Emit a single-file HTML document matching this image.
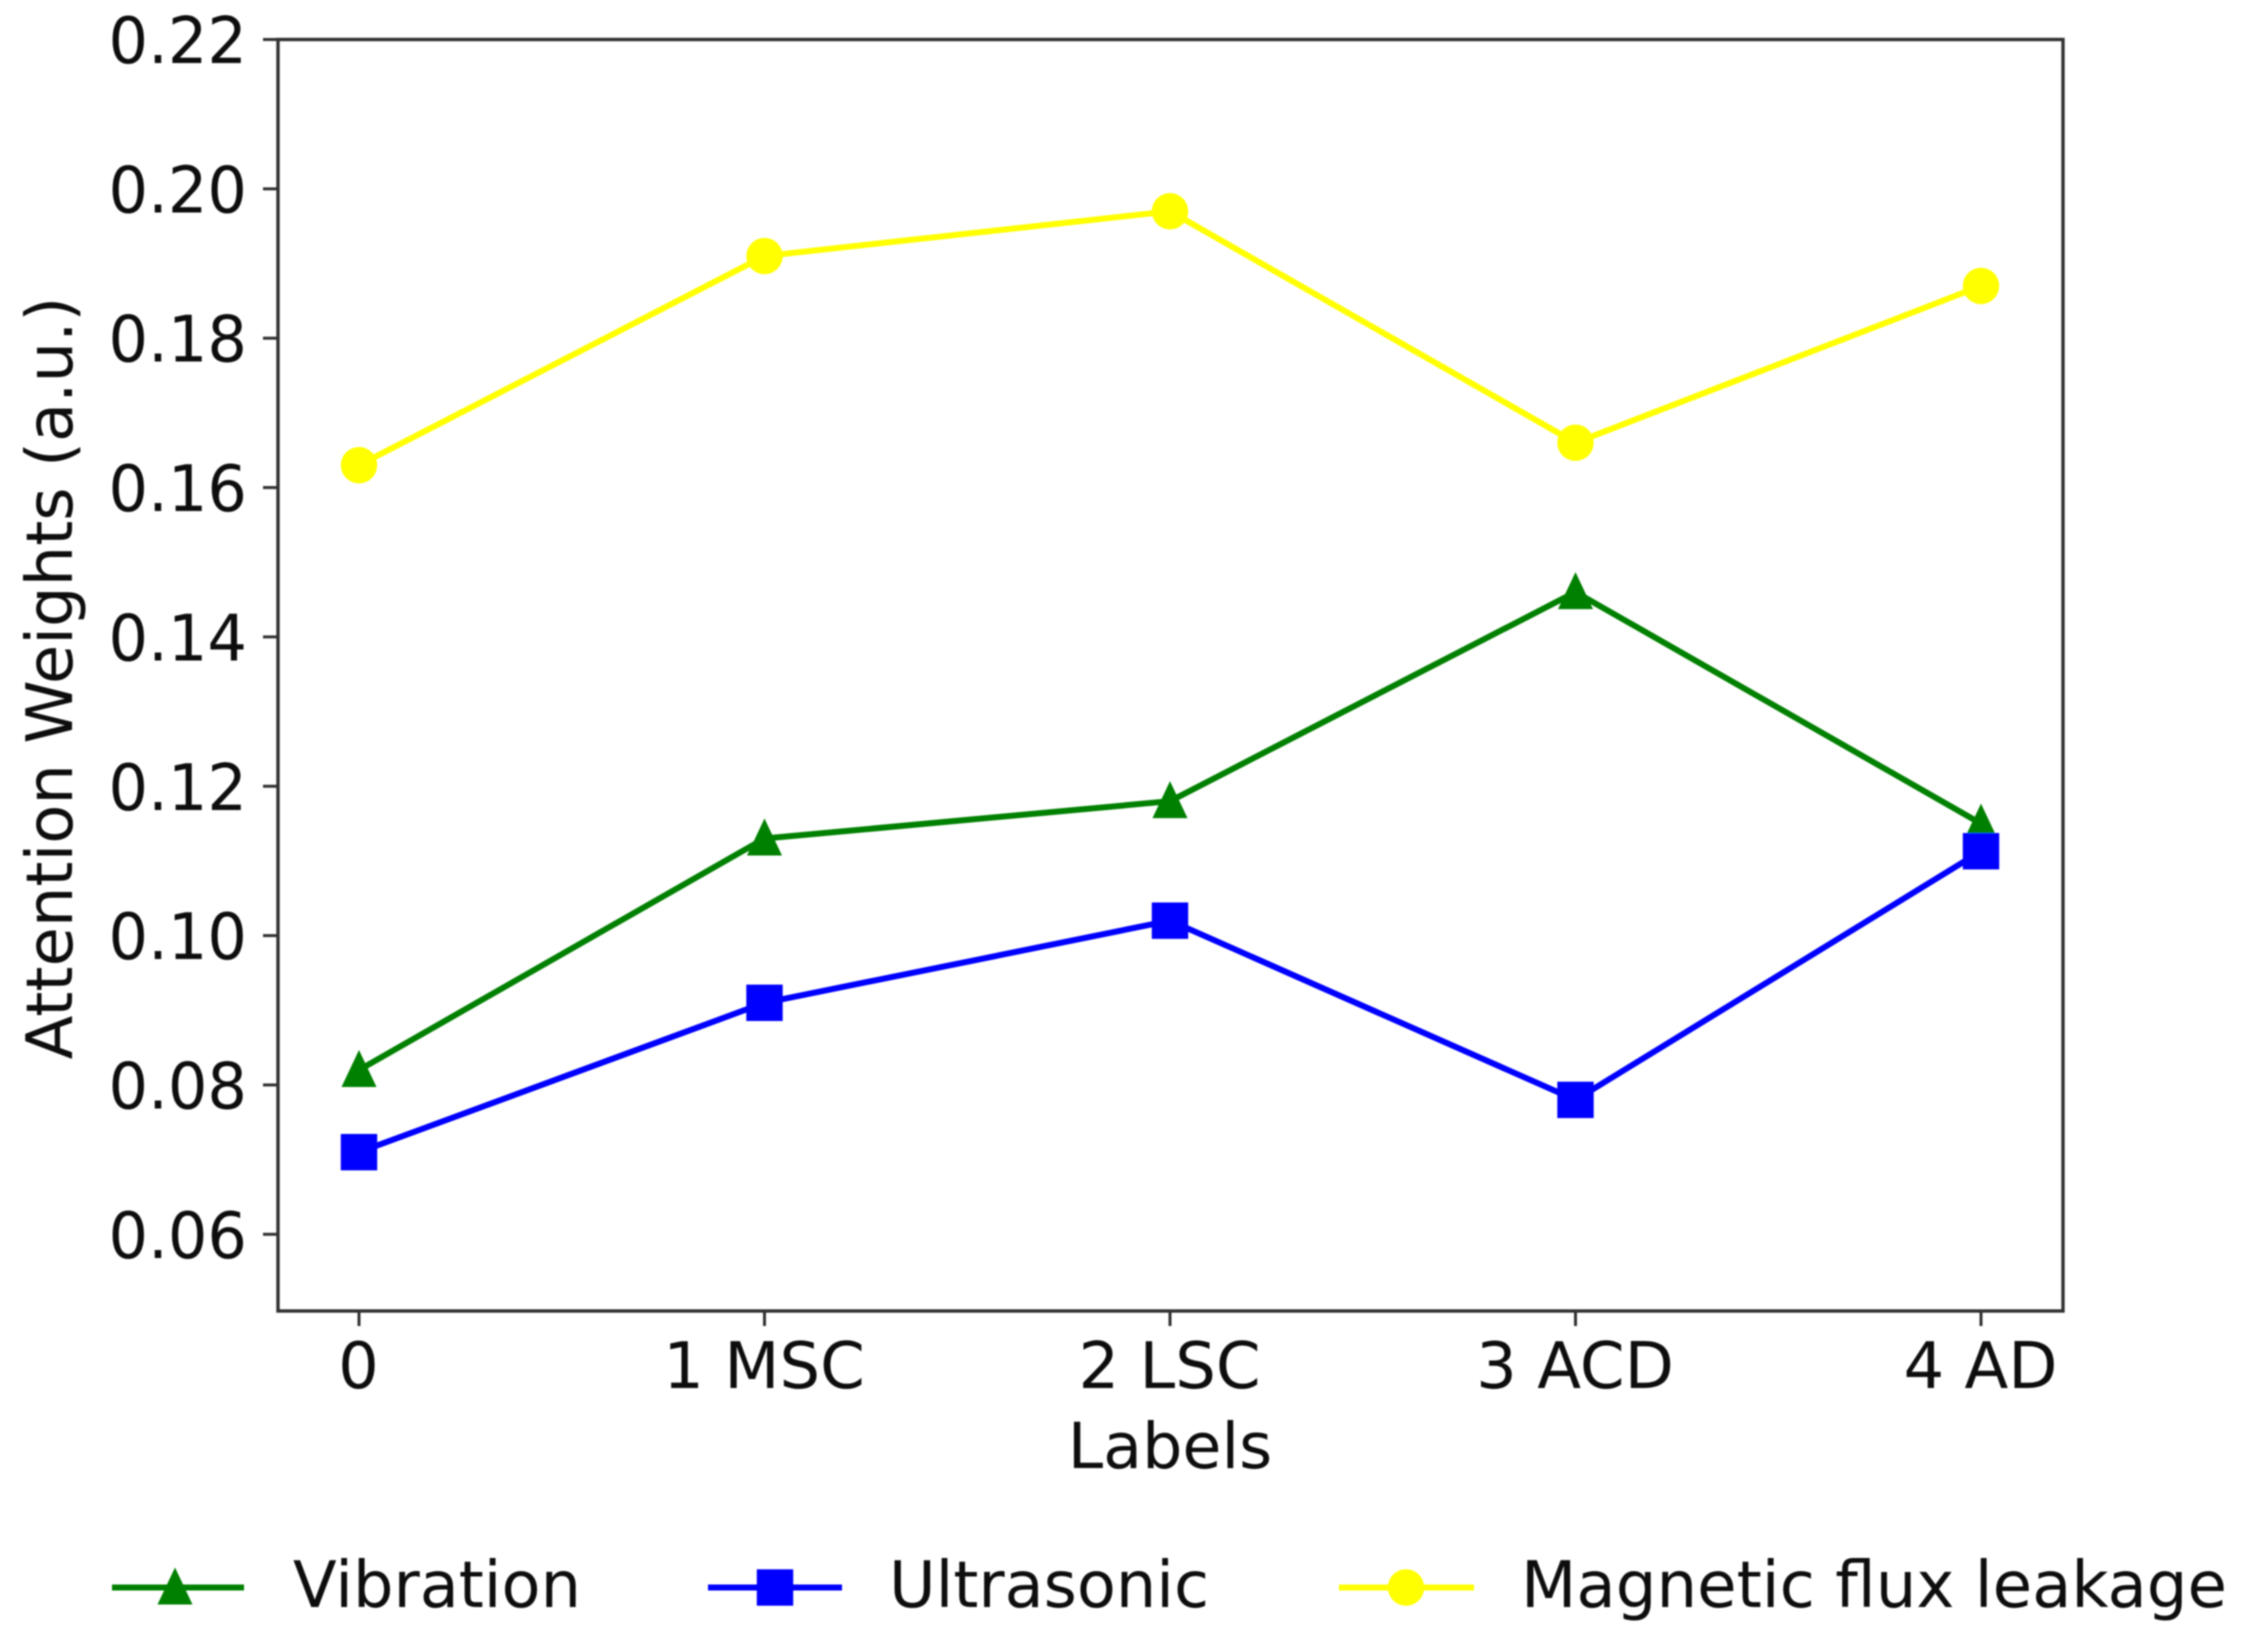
<!DOCTYPE html>
<html lang="en">
<head>
<meta charset="utf-8">
<title>Attention Weights Chart</title>
<style>
html,body{margin:0;padding:0;background:#fff;}
svg{display:block;}
text{font-family:"DejaVu Sans","Liberation Sans",sans-serif;fill:#0a0a0a;}
</style>
</head>
<body>
<svg id="chart" width="2244" height="1641" viewBox="0 0 2244 1641" xmlns="http://www.w3.org/2000/svg">
  <defs>
    <filter id="soft" x="-2%" y="-2%" width="104%" height="104%"><feGaussianBlur stdDeviation="0.8"/></filter>
  </defs>
  <g id="root" filter="url(#soft)"></g>
</svg>
<script>
const categories = ["0", "1 MSC", "2 LSC", "3 ACD", "4 AD"];
const yTickValues = [0.06, 0.08, 0.10, 0.12, 0.14, 0.16, 0.18, 0.20, 0.22];
const vibration = [0.082, 0.113, 0.118, 0.146, 0.115];
const ultrasonic = [0.071, 0.091, 0.102, 0.078, 0.1113];
const magneticFluxLeakage = [0.163, 0.191, 0.197, 0.166, 0.187];

const NS = "http://www.w3.org/2000/svg";
const root = document.getElementById("root");
const plot = {left: 278, right: 2063, top: 39.5, bottom: 1311};
const FONT = 64;

function xScale(i) { return 359 + i * 405.5; }
function yScale(v) { return 39.5 + (0.22 - v) * (1194.8 / 0.16); }

function make(tag, attrs) {
  const el = document.createElementNS(NS, tag);
  for (const k in attrs) el.setAttribute(k, attrs[k]);
  root.appendChild(el);
  return el;
}

function marker(kind, cx, cy, color) {
  let el;
  if (kind === "triangle") {
    el = make("polygon", {points: cx + "," + (cy - 20) + " " + (cx + 17.5) + "," + (cy + 17) + " " + (cx - 17.5) + "," + (cy + 17), fill: color});
  } else if (kind === "square") {
    el = make("rect", {x: cx - 18.2, y: cy - 18.2, width: 36.4, height: 36.4, fill: color});
  } else {
    el = make("circle", {cx: cx, cy: cy, r: 18.2, fill: color});
  }
  return el;
}

/* plot frame */
const frame = make("rect", {x: plot.left, y: plot.top, width: plot.right - plot.left, height: plot.bottom - plot.top, fill: "none", stroke: "#333", "stroke-width": 3.4});



/* y axis ticks and labels */
yTickValues.forEach(function (v) {
  const y = yScale(v);
  const tick = make("line", {x1: plot.left - 15, x2: plot.left, y1: y, y2: y, stroke: "#333", "stroke-width": 3});
  
  
  const label = make("text", {x: 108.5, y: y + 23.5, "font-size": FONT, textLength: 138.5, lengthAdjust: "spacingAndGlyphs"});
  label.textContent = v.toFixed(2);
  
  
});

/* x axis ticks and labels */
categories.forEach(function (c, i) {
  const x = xScale(i);
  const tick = make("line", {x1: x, x2: x, y1: plot.bottom, y2: plot.bottom + 15, stroke: "#333", "stroke-width": 3});
  
  
  const label = make("text", {x: x - 0.5, y: 1388, "text-anchor": "middle", "font-size": FONT});
  label.textContent = c;
  
  
});

/* axis titles */
const xTitle = make("text", {x: 1170, y: 1468, "text-anchor": "middle", "font-size": 63.5});
xTitle.textContent = "Labels";



const yTitle = make("text", {"text-anchor": "middle", "font-size": FONT, transform: "translate(72 678) rotate(-90)"});
yTitle.textContent = "Attention Weights (a.u.)";



/* series */
function drawSeries(values, color, kind, name) {
  const pts = values.map(function (v, i) { return xScale(i) + "," + yScale(v); }).join(" ");
  const line = make("polyline", {points: pts, fill: "none", stroke: color, "stroke-width": 6, "stroke-linejoin": "round"});
  
  
  values.forEach(function (v, i) {
    const m = marker(kind, xScale(i), yScale(v), color);
    
    
  });
}
drawSeries(vibration, "#008000", "triangle", "vibration");
drawSeries(ultrasonic, "#0000ff", "square", "ultrasonic");
drawSeries(magneticFluxLeakage, "#ffff00", "circle", "magnetic-flux-leakage");

/* legend */
function legendEntry(x1, x2, mx, tx, tw, color, kind, text, name) {
  const y = 1587.5;
  const line = make("line", {x1: x1, x2: x2, y1: y, y2: y, stroke: color, "stroke-width": 6});
  
  
  const m = marker(kind, mx, y, color);
  
  
  const t = make("text", {x: tx, y: 1607, "font-size": FONT, textLength: tw, lengthAdjust: "spacingAndGlyphs"});
  t.textContent = text;
  
  
}
legendEntry(112, 244, 175, 293, 288, "#008000", "triangle", "Vibration", "vibration");
legendEntry(708, 842, 775, 889, 320, "#0000ff", "square", "Ultrasonic", "ultrasonic");
legendEntry(1339, 1474, 1406, 1521, 706, "#ffff00", "circle", "Magnetic flux leakage", "magnetic-flux-leakage");
</script>
</body>
</html>
